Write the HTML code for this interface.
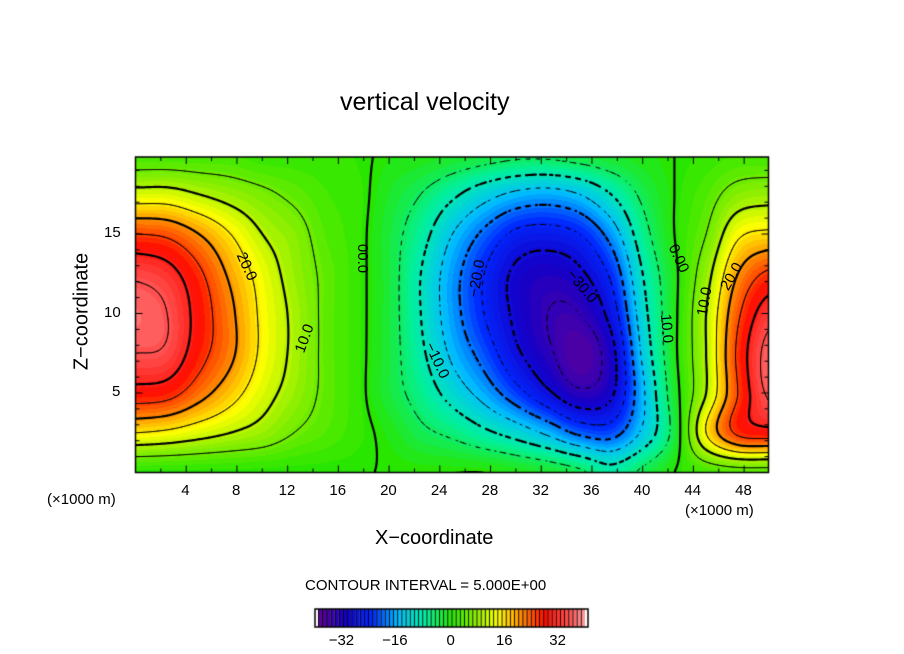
<!DOCTYPE html>
<html><head><meta charset="utf-8"><style>
body{margin:0;background:#fff;font-family:"Liberation Sans",sans-serif}
#wrap{position:relative;width:904px;height:654px;overflow:hidden;background:#fff}
.t{position:absolute;color:#000;white-space:nowrap}
</style></head><body>
<div id="wrap">
<div class="t" style="left:340px;top:88px;font-size:25px">vertical velocity</div>
<canvas id="cv" width="904" height="654" style="position:absolute;left:0;top:0"></canvas>
<div class="t" style="left:375px;top:527px;font-size:20px">X−coordinate</div>
<div class="t" style="left:-18px;top:300px;font-size:20px;transform:rotate(-90deg);width:200px;text-align:center">Z−coordinate</div>
<div class="t" style="left:47px;top:491px;font-size:15px">(×1000 m)</div>
<div class="t" style="left:685px;top:502px;font-size:15px">(×1000 m)</div>
<div class="t" style="left:305px;top:577px;font-size:15px">CONTOUR INTERVAL = 5.000E+00</div>
<div id="labels"></div>
</div>
<script>
const xCoords=[0,2.5,5,7.5,10,12.5,15,17.5,20,22.5,25,27.5,30,32.5,35,37.5,40,42.5,45,47.5,50];
const zCoords=[0,2.5,5,7.5,10,12.5,15,17.5,20];
const W0=[0,15,28,35,37,34,25,12,2];
const W1=[0,14,27,34,35,32,24,12,2];
const W2=[0,12,22,27,28,26,20,10,2];
const W3=[0,10,17,21,21,19,15,8,2];
const W4=[0,8,12,14,14,13,10,6,1];
const W5=[0,5,8,9,9,8,7,4,1];
const W6=[0,3,4,4,4,4,3,2,1];
const W7=[0,1,1,1,1,1,1,1,0.5];
const W8=[0,-1,-3,-3,-3,-3,-3,-2,-0.5];
const W9=[0,-4,-7,-9,-10,-10,-8,-5,-1];
const W10=[0,-6,-12,-16,-18,-18,-15,-9,-2];
const W11=[0,-9,-17,-22,-25,-25,-21,-13,-3];
const W12=[-1,-12,-23,-29,-31,-31,-26,-16,-4];
const W13=[-2,-16,-29,-34,-35,-33,-27,-17,-4];
const W14=[-4,-21,-34,-38,-35,-31,-25,-15,-3];
const W15=[-8,-22,-31,-32,-28,-24,-18,-10,-2];
const W16=[-4,-14,-16,-14,-12,-10,-7,-4,-1];
const W17=[0,-3,-2,-1,-1,-1,0,0,0];
const W18=[2,15,10,10,10,8,5,3,1];
const W19=[3,26,25,26,24,20,14,7,2];
const W20=[3,28,36,37,33,26,16,8,2];
const W=[W0,W1,W2,W3,W4,W5,W6,W7,W8,W9,W10,W11,W12,W13,W14,W15,W16,W17,W18,W19,W20];
const xTicks=[4,8,12,16,20,24,28,32,36,40,44,48];
const zTicks=[5,10,15];
const cbTicks=[-32,-16,0,16,32];

const X0=135.5,PX=12.68,Z0=472.5,PZ=15.9,XR=768.5,ZT=157;
const sx=x=>X0+x*PX, sz=z=>Z0-z*PZ;
function cr(p0,p1,p2,p3,t){return 0.5*((2*p1)+(-p0+p2)*t+(2*p0-5*p1+4*p2-p3)*t*t+(-p0+3*p1-3*p2+p3)*t*t*t);}
const nx=xCoords.length,nz=zCoords.length;
function g(i,j){i=Math.max(0,Math.min(nx-1,i));j=Math.max(0,Math.min(nz-1,j));return W[i][j];}
function field(x,z){
  let i=Math.min(nx-2,Math.max(0,Math.floor(x/2.5)));
  let j=Math.min(nz-2,Math.max(0,Math.floor(z/2.5)));
  let fx=Math.max(0,Math.min(1,(x-xCoords[i])/2.5)), fz=Math.max(0,Math.min(1,(z-zCoords[j])/2.5));
  const r=[];
  for(let k=-1;k<=2;k++)r.push(cr(g(i-1,j+k),g(i,j+k),g(i+1,j+k),g(i+2,j+k),fx));
  return cr(r[0],r[1],r[2],r[3],fz);
}
const stops=[[-40,[100,0,150]],[-32,[20,0,200]],[-24,[0,40,255]],[-16,[0,190,255]],[-8,[0,240,160]],[0,[40,230,0]],[8,[150,240,0]],[14,[255,255,0]],[20,[255,150,0]],[28,[255,10,0]],[36,[255,90,90]],[40,[255,160,160]]];
function col(v){
  if(v<=stops[0][0])return stops[0][1];
  for(let k=0;k<stops.length-1;k++){const[a,ca]=stops[k],[b,cb]=stops[k+1];
    if(v<=b){const f=(v-a)/(b-a);return ca.map((c,i)=>Math.round(c+(cb[i]-c)*f));}}
  return stops[stops.length-1][1];
}
const cv=document.getElementById('cv'),ctx=cv.getContext('2d');
const x1=Math.round(X0),x2=Math.round(XR),y1=ZT,y2=Math.round(Z0);
const img=ctx.createImageData(x2-x1,y2-y1);
for(let py=y1;py<y2;py++)for(let px=x1;px<x2;px++){
  const v=field((px-X0)/PX,(Z0-py)/PZ);const c=col(Math.round(v/1.25)*1.25);
  const o=((py-y1)*(x2-x1)+(px-x1))*4;img.data[o]=c[0];img.data[o+1]=c[1];img.data[o+2]=c[2];img.data[o+3]=255;}
ctx.putImageData(img,x1,y1);
const step=2;
ctx.save();ctx.beginPath();ctx.rect(x1,y1,x2-x1,y2-y1);ctx.clip();
for(let L=-35;L<=35;L+=5){
  ctx.beginPath();
  for(let py=y1;py<y2;py+=step)for(let px=x1;px<x2;px+=step){
    if(L<0 && (Math.floor(px/5)+Math.floor(py/5))%2===1)continue;
    const p=[[px,py],[px+step,py],[px+step,py+step],[px,py+step]];
    const v=p.map(q=>field((q[0]-X0)/PX,(Z0-q[1])/PZ));
    const pts=[];
    for(let e=0;e<4;e++){const a=v[e],b=v[(e+1)%4];
      if((a<L)!==(b<L)){const f=(L-a)/(b-a);const A=p[e],B=p[(e+1)%4];pts.push([A[0]+(B[0]-A[0])*f,A[1]+(B[1]-A[1])*f]);}}
    for(let k=0;k+1<pts.length;k+=2){ctx.moveTo(pts[k][0],pts[k][1]);ctx.lineTo(pts[k+1][0],pts[k+1][1]);}
  }
  ctx.lineWidth=(L%10===0)?2.2:0.9;ctx.strokeStyle='#000';ctx.lineCap='round';
  ctx.stroke();
}
ctx.restore();
ctx.lineWidth=1.5;ctx.strokeStyle='#000';ctx.strokeRect(X0,ZT,XR-X0,Z0-ZT);
ctx.lineWidth=1;
for(let x=2;x<50;x+=2){const L=x%4===0?7:4;ctx.beginPath();ctx.moveTo(sx(x),Z0);ctx.lineTo(sx(x),Z0-L);ctx.moveTo(sx(x),ZT);ctx.lineTo(sx(x),ZT+L);ctx.stroke();}
for(let z=1;z<20;z++){const L=z%5===0?7:4;ctx.beginPath();ctx.moveTo(X0,sz(z));ctx.lineTo(X0+L,sz(z));ctx.moveTo(XR,sz(z));ctx.lineTo(XR-L,sz(z));ctx.stroke();}
const cb0=318,cb1=585,cy=609,ch=18,cs=(cb1-cb0)/80;
for(let v=-40;v<40;v+=1.25){const c=col(v+0.6);ctx.fillStyle=`rgb(${c})`;ctx.fillRect(cb0+(v+40)*cs,cy,cs*1.25,ch);
  ctx.fillStyle='#000';ctx.fillRect(cb0+(v+40)*cs,cy,0.9,ch);}
ctx.lineWidth=1.5;ctx.strokeRect(315,cy,273,ch);
const lab=document.getElementById('labels');
function addLabel(txt,x,y,size,name,rot){const d=document.createElement('div');d.className='t';
  
  
  d.textContent=txt;d.style.fontSize=size+'px';d.style.left=x+'px';d.style.top=y+'px';
  if(rot){d.style.transform='rotate('+rot+'deg)';d.style.transformOrigin='center';}
  lab.appendChild(d);return d;}
xTicks.forEach(t=>{addLabel(String(t),sx(t)-(t<10?5:9),482,15,'x-tick-label');});
zTicks.forEach(t=>{addLabel(String(t),t<10?112:104,sz(t)-10,15,'z-tick-label');});
cbTicks.forEach(t=>{const s=t<0?'−'+(-t):String(t);addLabel(s,cb0+(t+40)*cs-(t<0?16:t===0?5:9),632,15,'colorbar-tick-label');});
addLabel('20.0',232,258,15,'contour-label',65);
addLabel('10.0',290,330,15,'contour-label',-70);
addLabel('00.0',348,250,15,'contour-label',90);
addLabel('−20.0',458,270,15,'contour-label',-80);
addLabel('−10.0',418,352,15,'contour-label',65);
addLabel('−30.0',563,278,15,'contour-label',50);
addLabel('10.0',652,320,15,'contour-label',85);
addLabel('0.00',664,250,15,'contour-label',65);
addLabel('10.0',690,293,15,'contour-label',-80);
addLabel('20.0',717,268,15,'contour-label',-60);
</script>
</body></html>
